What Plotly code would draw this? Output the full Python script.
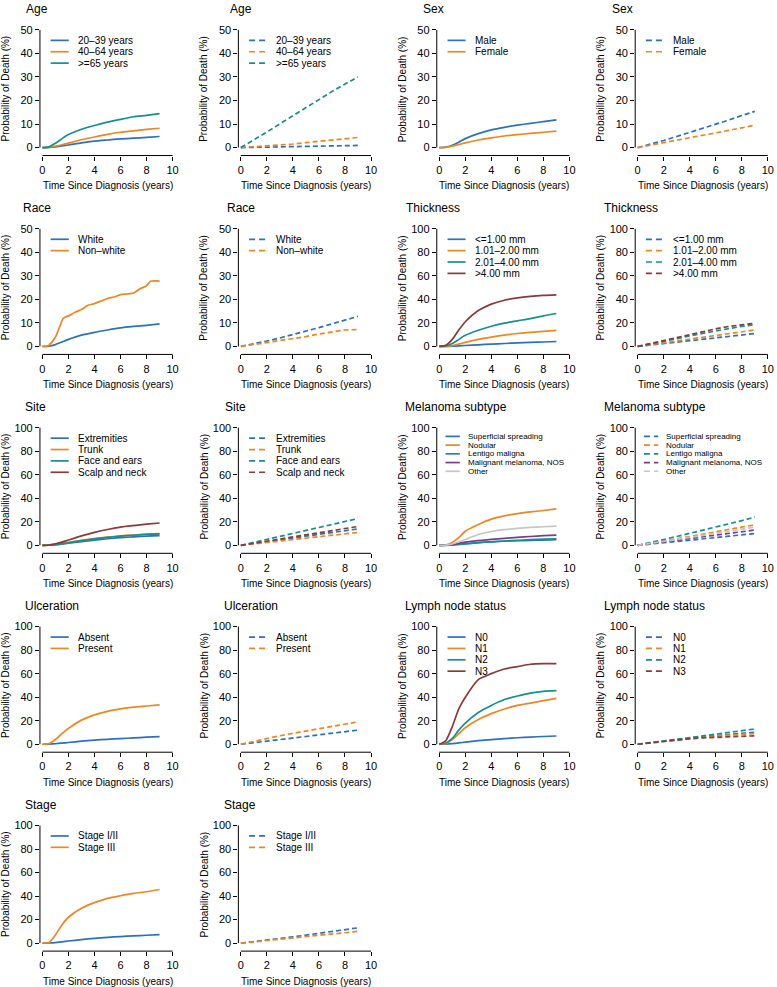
import plotly.graph_objects as go

# ---------------- data ----------------
T_OBS = [0, 0.5, 1, 1.5, 2, 3, 4, 5, 6, 7, 8, 9]
T_EXP = [0, 1, 2, 3, 4, 5, 6, 7, 8, 9]
T_RACE_NW = [0, 0.3, 0.5, 1, 1.3, 1.6, 2, 2.5, 3, 3.5, 4, 4.5, 5, 5.5, 6, 6.5, 7, 7.5, 8, 8.3, 9]

age_obs_2039 = [0, 0.1, 0.3, 0.7, 1.1, 2.0, 2.7, 3.2, 3.7, 4.0, 4.3, 4.7]
age_obs_4064 = [0, 0.1, 0.6, 1.2, 1.9, 3.3, 4.5, 5.6, 6.5, 7.1, 7.7, 8.2]
age_obs_65 = [0, 0.3, 1.8, 3.8, 5.5, 7.8, 9.4, 10.8, 12.0, 13.1, 13.7, 14.4]
age_exp_2039 = [0, 0.1, 0.1, 0.2, 0.3, 0.5, 0.6, 0.7, 0.8, 0.9]
age_exp_4064 = [0, 0.3, 0.6, 1.0, 1.5, 2.1, 2.7, 3.2, 3.8, 4.3]
age_exp_65 = [0, 3.2, 6.6, 10.1, 13.6, 17.0, 20.6, 23.8, 27.0, 30.0]

sex_obs_male = [0, 0.2, 1.0, 2.3, 3.8, 5.9, 7.5, 8.6, 9.5, 10.3, 11.0, 11.8]
sex_obs_female = [0, 0.1, 0.6, 1.3, 2.0, 3.2, 4.1, 4.9, 5.5, 6.0, 6.5, 7.0]
sex_exp_male = [0, 1.4, 3.0, 4.7, 6.4, 8.1, 10.0, 11.7, 13.6, 15.4]
sex_exp_female = [0, 1.0, 2.0, 3.1, 4.1, 5.1, 6.2, 7.3, 8.4, 9.5]

race_obs_white = [0, 0.1, 0.8, 1.9, 3.0, 4.8, 6.0, 7.0, 7.9, 8.5, 9.0, 9.6]
race_obs_nonwhite = [0, 0, 0.5, 4, 8, 12, 13, 14.5, 15.7, 17.5, 18.2, 19.3, 20.4, 21, 22, 22.3, 22.7, 24.5, 25.8, 27.7, 27.8]
race_exp_white = [0, 1.0, 2.3, 3.6, 5.0, 6.5, 8.0, 9.6, 11.2, 12.8]
race_exp_nonwhite = [0, 0.8, 1.5, 2.3, 3.1, 4.2, 5.3, 6.3, 7.0, 7.2]

thk_obs_1 = [0, 0, 0.2, 0.5, 0.8, 1.4, 2.0, 2.5, 3.0, 3.4, 3.8, 4.2]
thk_obs_2 = [0, 0, 0.8, 2.0, 3.5, 6.0, 8.0, 9.7, 11.0, 12.0, 12.9, 13.6]
thk_obs_3 = [0, 0.5, 2.5, 6.0, 9.5, 13.8, 17.2, 19.8, 21.8, 23.7, 26.0, 28.0]
thk_obs_4 = [0, 1.0, 6.0, 14.0, 21.0, 30.5, 36.0, 39.3, 41.3, 42.6, 43.4, 43.8]
thk_exp_1 = [0, 1.2, 2.5, 3.8, 5.1, 6.3, 7.6, 8.8, 10.0, 11.0]
thk_exp_2 = [0, 1.6, 3.3, 5.0, 6.6, 8.2, 9.8, 11.3, 12.7, 14.0]
thk_exp_3 = [0, 2.0, 4.3, 6.6, 9.0, 11.2, 13.3, 15.2, 17.0, 18.5]
thk_exp_4 = [0, 2.5, 5.3, 8.0, 10.6, 13.0, 15.0, 17.0, 18.5, 19.7]

site_obs_ext = [0, 0.1, 0.5, 1.1, 1.8, 3.2, 4.5, 5.6, 6.5, 7.2, 7.8, 8.3]
site_obs_trunk = [0, 0.2, 0.7, 1.5, 2.5, 4.3, 5.8, 7.0, 8.0, 8.8, 9.5, 10.0]
site_obs_face = [0, 0.1, 0.6, 1.3, 2.2, 4.0, 5.5, 6.8, 7.8, 8.6, 9.3, 9.8]
site_obs_scalp = [0, 0.3, 1.2, 2.7, 4.5, 8.0, 11.0, 13.5, 15.5, 16.8, 18.0, 19.0]
site_exp_ext = [0, 1.5, 3.0, 4.6, 6.2, 7.8, 9.4, 11.0, 12.6, 14.0]
site_exp_trunk = [0, 1.2, 2.4, 3.6, 4.8, 6.0, 7.3, 8.6, 9.8, 11.0]
site_exp_face = [0, 2.5, 5.0, 7.6, 10.2, 12.8, 15.3, 17.8, 20.3, 22.8]
site_exp_scalp = [0, 1.7, 3.5, 5.3, 7.1, 8.9, 10.7, 12.5, 14.3, 16.0]

mel_obs_ss = [0, 0.1, 0.4, 0.9, 1.4, 2.3, 3.0, 3.5, 3.9, 4.2, 4.5, 4.8]
mel_obs_nod = [0, 0.3, 2.5, 6.5, 12.0, 17.7, 22.3, 25.0, 27.0, 28.4, 29.6, 31.0]
mel_obs_lm = [0, 0, 0.3, 0.7, 1.2, 2.2, 3.0, 3.7, 4.3, 4.8, 5.2, 5.6]
mel_obs_nos = [0, 0.2, 0.8, 1.7, 2.8, 4.0, 5.0, 6.0, 6.8, 7.5, 8.2, 8.7]
mel_obs_other = [0, 0.2, 1.2, 3.0, 5.0, 9.2, 11.8, 13.3, 14.4, 15.2, 15.8, 16.3]
mel_exp_ss = [0, 1.0, 2.1, 3.2, 4.4, 5.5, 6.6, 7.8, 8.9, 10.0]
mel_exp_nod = [0, 1.7, 3.5, 5.5, 7.5, 9.4, 11.3, 13.3, 15.4, 17.5]
mel_exp_lm = [0, 2.3, 4.8, 7.5, 10.2, 12.8, 15.5, 18.2, 21.0, 24.0]
mel_exp_nos = [0, 1.3, 2.8, 4.3, 5.8, 7.3, 8.8, 10.3, 11.8, 13.0]
mel_exp_other = [0, 1.5, 3.2, 5.0, 6.8, 8.6, 10.4, 12.2, 14.0, 15.5]

ulc_obs_absent = [0, 0.1, 0.4, 0.9, 1.5, 2.6, 3.5, 4.2, 4.8, 5.4, 6.0, 6.5]
ulc_obs_present = [0, 0.5, 4.0, 9.0, 13.5, 20.5, 25.0, 28.0, 30.0, 31.5, 32.5, 33.5]
ulc_exp_absent = [0, 1.2, 2.5, 3.8, 5.2, 6.6, 8.0, 9.4, 10.8, 12.0]
ulc_exp_present = [0, 2.6, 5.0, 7.2, 9.3, 11.3, 13.3, 15.3, 17.2, 19.0]

ln_obs_n0 = [0, 0.1, 0.5, 1.1, 1.8, 3.0, 4.0, 4.8, 5.5, 6.1, 6.6, 7.0]
ln_obs_n1 = [0, 0.5, 4.0, 9.0, 14.0, 21.0, 26.0, 30.0, 33.0, 35.0, 37.0, 39.0]
ln_obs_n2 = [0, 1.0, 5.0, 12.0, 18.0, 27.0, 33.0, 38.0, 41.0, 43.5, 45.0, 45.5]
ln_obs_n3 = [0, 3.0, 15.0, 30.0, 40.0, 55.0, 60.0, 64.0, 66.0, 68.0, 68.5, 68.5]
ln_exp_n0 = [0, 1.5, 3.0, 4.2, 5.3, 6.4, 7.5, 8.5, 9.4, 10.2]
ln_exp_n1 = [0, 1.3, 2.7, 3.9, 5.0, 6.0, 7.0, 7.8, 8.5, 9.0]
ln_exp_n2 = [0, 1.2, 2.7, 4.1, 5.6, 7.1, 8.6, 10.1, 11.6, 13.0]
ln_exp_n3 = [0, 1.2, 2.5, 3.7, 4.6, 5.4, 6.0, 6.5, 6.9, 7.2]

stg_obs_12 = [0, 0.1, 0.5, 1.1, 1.8, 3.0, 4.1, 4.9, 5.6, 6.2, 6.7, 7.2]
stg_obs_3 = [0, 0.5, 7.0, 15.5, 22.0, 29.6, 34.4, 38.0, 40.3, 42.3, 43.7, 45.6]
stg_exp_12 = [0, 1.2, 2.5, 3.9, 5.3, 6.8, 8.3, 9.8, 11.4, 13.0]
stg_exp_3 = [0, 1.1, 2.3, 3.5, 4.7, 5.8, 6.9, 8.0, 9.0, 10.0]

X_TICKS = [0, 2, 4, 6, 8, 10]

# ---------------- style ----------------
BLUE = "#2A72BE"
ORANGE = "#EF861F"
TEAL = "#15918B"
BROWN = "#8B3A38"
PURPLE = "#783E8C"
GRAY = "#C6C6C6"
FONT = "Liberation Sans, Arial, Helvetica, sans-serif"

panels = [
    ("Age", 50, "solid", [("20–39 years", BLUE, T_OBS, age_obs_2039),
                          ("40–64 years", ORANGE, T_OBS, age_obs_4064),
                          ("&gt;=65 years", TEAL, T_OBS, age_obs_65)]),
    ("Age", 50, "dash", [("20–39 years", BLUE, T_EXP, age_exp_2039),
                         ("40–64 years", ORANGE, T_EXP, age_exp_4064),
                         ("&gt;=65 years", TEAL, T_EXP, age_exp_65)]),
    ("Sex", 50, "solid", [("Male", BLUE, T_OBS, sex_obs_male),
                          ("Female", ORANGE, T_OBS, sex_obs_female)]),
    ("Sex", 50, "dash", [("Male", BLUE, T_EXP, sex_exp_male),
                         ("Female", ORANGE, T_EXP, sex_exp_female)]),
    ("Race", 50, "solid", [("White", BLUE, T_OBS, race_obs_white),
                           ("Non–white", ORANGE, T_RACE_NW, race_obs_nonwhite)]),
    ("Race", 50, "dash", [("White", BLUE, T_EXP, race_exp_white),
                          ("Non–white", ORANGE, T_EXP, race_exp_nonwhite)]),
    ("Thickness", 100, "solid", [("&lt;=1.00 mm", BLUE, T_OBS, thk_obs_1),
                                 ("1.01–2.00 mm", ORANGE, T_OBS, thk_obs_2),
                                 ("2.01–4.00 mm", TEAL, T_OBS, thk_obs_3),
                                 ("&gt;4.00 mm", BROWN, T_OBS, thk_obs_4)]),
    ("Thickness", 100, "dash", [("&lt;=1.00 mm", BLUE, T_EXP, thk_exp_1),
                                ("1.01–2.00 mm", ORANGE, T_EXP, thk_exp_2),
                                ("2.01–4.00 mm", TEAL, T_EXP, thk_exp_3),
                                ("&gt;4.00 mm", BROWN, T_EXP, thk_exp_4)]),
    ("Site", 100, "solid", [("Extremities", BLUE, T_OBS, site_obs_ext),
                            ("Trunk", ORANGE, T_OBS, site_obs_trunk),
                            ("Face and ears", TEAL, T_OBS, site_obs_face),
                            ("Scalp and neck", BROWN, T_OBS, site_obs_scalp)]),
    ("Site", 100, "dash", [("Extremities", BLUE, T_EXP, site_exp_ext),
                           ("Trunk", ORANGE, T_EXP, site_exp_trunk),
                           ("Face and ears", TEAL, T_EXP, site_exp_face),
                           ("Scalp and neck", BROWN, T_EXP, site_exp_scalp)]),
    ("Melanoma subtype", 100, "solid", [("Superficial spreading", BLUE, T_OBS, mel_obs_ss),
                                        ("Nodular", ORANGE, T_OBS, mel_obs_nod),
                                        ("Lentigo maligna", TEAL, T_OBS, mel_obs_lm),
                                        ("Malignant melanoma, NOS", PURPLE, T_OBS, mel_obs_nos),
                                        ("Other", GRAY, T_OBS, mel_obs_other)]),
    ("Melanoma subtype", 100, "dash", [("Superficial spreading", BLUE, T_EXP, mel_exp_ss),
                                       ("Nodular", ORANGE, T_EXP, mel_exp_nod),
                                       ("Lentigo maligna", TEAL, T_EXP, mel_exp_lm),
                                       ("Malignant melanoma, NOS", PURPLE, T_EXP, mel_exp_nos),
                                       ("Other", GRAY, T_EXP, mel_exp_other)]),
    ("Ulceration", 100, "solid", [("Absent", BLUE, T_OBS, ulc_obs_absent),
                                  ("Present", ORANGE, T_OBS, ulc_obs_present)]),
    ("Ulceration", 100, "dash", [("Absent", BLUE, T_EXP, ulc_exp_absent),
                                 ("Present", ORANGE, T_EXP, ulc_exp_present)]),
    ("Lymph node status", 100, "solid", [("N0", BLUE, T_OBS, ln_obs_n0),
                                         ("N1", ORANGE, T_OBS, ln_obs_n1),
                                         ("N2", TEAL, T_OBS, ln_obs_n2),
                                         ("N3", BROWN, T_OBS, ln_obs_n3)]),
    ("Lymph node status", 100, "dash", [("N0", BLUE, T_EXP, ln_exp_n0),
                                        ("N1", ORANGE, T_EXP, ln_exp_n1),
                                        ("N2", TEAL, T_EXP, ln_exp_n2),
                                        ("N3", BROWN, T_EXP, ln_exp_n3)]),
    ("Stage", 100, "solid", [("Stage I/II", BLUE, T_OBS, stg_obs_12),
                             ("Stage III", ORANGE, T_OBS, stg_obs_3)]),
    ("Stage", 100, "dash", [("Stage I/II", BLUE, T_EXP, stg_exp_12),
                            ("Stage III", ORANGE, T_EXP, stg_exp_3)]),
]

TITLE_X = [23, 228, 423, 613, 20, 225, 406, 605, 22, 223, 405, 605, 22, 222, 405, 605, 22, 222]

# ---------------- layout geometry (pixels) ----------------
W, H = 777, 987
X0, DX, XW = 41.7, 199.7, 131.0     # x=0 pixel of col 0, column step, width of 0..10
YT, DY, YH = 27.0, 199.5, 118.0     # top tick pixel of row 0, row step, height of 0..ymax
PAD_L, PAD_R = 2.5, 2.5
PAD_B, PAD_T = 8.0, 3.0

fig = go.Figure()
shapes, annos = [], []
lay = {}

for i, (title, ymax, style, series) in enumerate(panels):
    r, c = divmod(i, 4)
    n = i + 1
    sfx = "" if n == 1 else str(n)
    x0 = X0 + DX * c
    yt = YT + DY * r
    yb = yt + YH
    ppx = XW / 10.0
    ppy = YH / ymax
    xr = [-PAD_L / ppx, 10 + PAD_R / ppx]
    yr = [-PAD_B / ppy, ymax + PAD_T / ppy]
    dom_x = [(x0 - PAD_L) / W, (x0 + XW + PAD_R) / W]
    dom_y = [1 - (yb + PAD_B) / H, 1 - (yt - PAD_T) / H]

    common = dict(ticks="outside", ticklen=4, tickwidth=1, tickcolor="black",
                  showgrid=False, zeroline=False, showline=False, fixedrange=True,
                  tickfont=dict(family=FONT, size=11, color="black"))
    lay["xaxis" + sfx] = dict(domain=dom_x, range=xr, anchor="y" + sfx,
                              tickvals=X_TICKS, **common)
    lay["yaxis" + sfx] = dict(domain=dom_y, range=yr, anchor="x" + sfx,
                              tickvals=[ymax * k / 5 for k in range(6)], **common)

    for name, color, t, v in series:
        fig.add_trace(go.Scatter(
            x=t, y=v, mode="lines", name=name, showlegend=False, hoverinfo="skip",
            line=dict(color=color, width=1.7,
                      dash="solid" if style == "solid" else "5px,3px",
                      shape="spline" if style == "solid" else "linear",
                      smoothing=0.6),
            xaxis="x" + sfx, yaxis="y" + sfx))

    # axis lines (R-style, spanning first to last tick)
    shapes.append(dict(type="line", xref="x" + sfx, yref="y" + sfx + " domain",
                       x0=0, x1=10, y0=0, y1=0, line=dict(color="black", width=1)))
    shapes.append(dict(type="line", xref="x" + sfx + " domain", yref="y" + sfx,
                       x0=0, x1=0, y0=0, y1=ymax, line=dict(color="black", width=1)))

    # panel title
    annos.append(dict(text=title, xref="paper", yref="paper", x=TITLE_X[i] / W,
                      y=1 - (yt - 21) / H, xanchor="left", yanchor="middle",
                      showarrow=False, font=dict(family=FONT, size=12, color="black")))
    # axis titles
    annos.append(dict(text="Time Since Diagnosis (years)", xref="paper", yref="paper",
                      x=(x0 + XW / 2) / W, y=1 - (yb + 38) / H, xanchor="center",
                      yanchor="middle", showarrow=False,
                      font=dict(family=FONT, size=10, color="black")))
    annos.append(dict(text="Probability of Death (%)", xref="paper", yref="paper",
                      x=(x0 - 37) / W, y=1 - ((yt + yb) / 2) / H, xanchor="center",
                      yanchor="middle", textangle=-90, showarrow=False,
                      font=dict(family=FONT, size=10, color="black")))

    # legend
    small = len(series) == 5
    ly0 = 8.7 if small else 10.5
    ldy = 8.75 if small else 11.4
    lx1, lx2, ltx = (6.3, 20.7, 26.7) if small else (8.3, 26.5, 33.5)
    fsz = 8 if small else 10
    for k, (name, color, t, v) in enumerate(series):
        yk = yt + ly0 + k * ldy
        shapes.append(dict(type="line", xref="paper", yref="paper",
                           x0=(x0 + lx1) / W, x1=(x0 + lx2) / W,
                           y0=1 - yk / H, y1=1 - yk / H,
                           line=dict(color=color, width=1.7,
                                     dash="solid" if style == "solid" else "6px,4px")))
        annos.append(dict(text=name, xref="paper", yref="paper", x=(x0 + ltx) / W,
                          y=1 - yk / H, xanchor="left", yanchor="middle",
                          showarrow=False,
                          font=dict(family=FONT, size=fsz, color="black")))

fig.update_layout(width=W, height=H, autosize=False,
                  margin=dict(l=0, r=0, t=0, b=0, pad=0),
                  paper_bgcolor="white", plot_bgcolor="white",
                  showlegend=False, shapes=shapes, annotations=annos, **lay)

fig.write_html("out.html", config={"displayModeBar": False, "staticPlot": True},
               post_script="document.body.style.margin='0';")
